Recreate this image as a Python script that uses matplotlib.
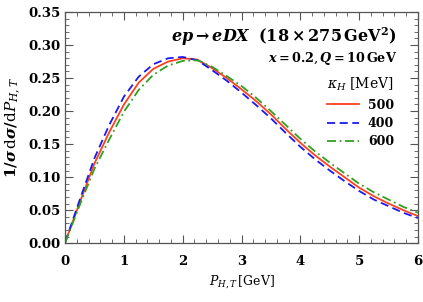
import numpy as np
import matplotlib
matplotlib.use("Agg")
import matplotlib.pyplot as plt
from matplotlib.ticker import MultipleLocator, FuncFormatter

# P_{H,T} grid [GeV]
p_ht = [0.0, 0.25, 0.5, 0.75, 1.0, 1.25, 1.5, 1.75, 2.0, 2.25, 2.5, 2.75, 3.0,
        3.25, 3.5, 3.75, 4.0, 4.25, 4.5, 4.75, 5.0, 5.25, 5.5, 5.75, 6.0]

# normalised distributions for kappa_H = 500, 400, 600 MeV
dist_500 = [0.001, 0.062, 0.121, 0.168, 0.210, 0.243, 0.264, 0.275, 0.280, 0.278, 0.265, 0.250, 0.233,
            0.215, 0.195, 0.173, 0.152, 0.133, 0.116, 0.100, 0.084, 0.071, 0.060, 0.050, 0.041]
dist_400 = [0.001, 0.066, 0.129, 0.179, 0.222, 0.252, 0.271, 0.280, 0.282, 0.277, 0.262, 0.246, 0.228,
            0.209, 0.189, 0.167, 0.146, 0.127, 0.110, 0.094, 0.079, 0.066, 0.056, 0.046, 0.038]
dist_600 = [0.001, 0.058, 0.113, 0.157, 0.199, 0.232, 0.255, 0.269, 0.276, 0.277, 0.267, 0.253, 0.238,
            0.220, 0.200, 0.179, 0.158, 0.139, 0.122, 0.106, 0.090, 0.077, 0.066, 0.055, 0.046]

matplotlib.rcParams["mathtext.fontset"] = "dejavuserif"
matplotlib.rcParams["font.family"] = "DejaVu Serif"

fig = plt.figure(figsize=(4.23, 3.02), dpi=100)
ax = fig.add_axes([0.154, 0.195, 0.834, 0.765])

ax.plot(p_ht, dist_500, "-", color="#ff4020", lw=1.3, label="500")
ax.plot(p_ht, dist_400, "--", color="#1a1aee", lw=1.3, dashes=(4.5, 2.5), label="400")
ax.plot(p_ht, dist_600, "-.", color="#30a020", lw=1.3, dashes=(5, 2, 1, 2), label="600")

ax.set_xlim(0, 6)
ax.set_ylim(0, 0.35)
ax.xaxis.set_major_locator(MultipleLocator(1))
ax.xaxis.set_minor_locator(MultipleLocator(0.2))
ax.yaxis.set_major_locator(MultipleLocator(0.05))
ax.yaxis.set_minor_locator(MultipleLocator(0.01))
ax.xaxis.set_major_formatter(FuncFormatter(lambda v, _: "%d" % round(v)))
ax.yaxis.set_major_formatter(FuncFormatter(lambda v, _: "%.2f" % v))

frame = "#555555"
for s in ax.spines.values():
    s.set_color(frame)
    s.set_linewidth(0.9)
ax.tick_params(which="both", direction="in", top=True, right=True, color=frame,
               labelsize=9.5)
ax.tick_params(axis="y", pad=3)
ax.tick_params(axis="x", pad=8.5)
ax.tick_params(which="major", length=6, width=0.8)
ax.tick_params(which="minor", length=3, width=0.6)
for lab in ax.get_xticklabels() + ax.get_yticklabels():
    lab.set_fontweight("bold")

ax.set_xlabel(r"$\boldsymbol{P_{H,T}}\,[\mathrm{GeV}]$", fontsize=9, labelpad=4)
ax.set_ylabel(r"$\boldsymbol{1/\sigma\,\mathrm{d}\sigma/\mathrm{d}P_{H,T}}$", fontsize=11, labelpad=4)

ax.text(0.94, 0.892, r"$\boldsymbol{ep \to eDX}\ \ \mathbf{(18\times 275\,GeV^2)}$",
        transform=ax.transAxes, ha="right", va="center", fontsize=11.5)
ax.text(0.94, 0.797, r"$\boldsymbol{x = 0.2, Q = }\mathbf{10\,GeV}$",
        transform=ax.transAxes, ha="right", va="center", fontsize=9.2)

leg = ax.legend(title=r"$\boldsymbol{\kappa_H}\ [\mathrm{MeV}]$", loc="upper right",
                bbox_to_anchor=(0.957, 0.761), frameon=False,
                prop={"size": 9, "weight": "bold"},
                title_fontsize=10, handlelength=2.6, handletextpad=0.7,
                labelspacing=0.42, borderaxespad=0.3)

fig.savefig("out.png", dpi=100)
